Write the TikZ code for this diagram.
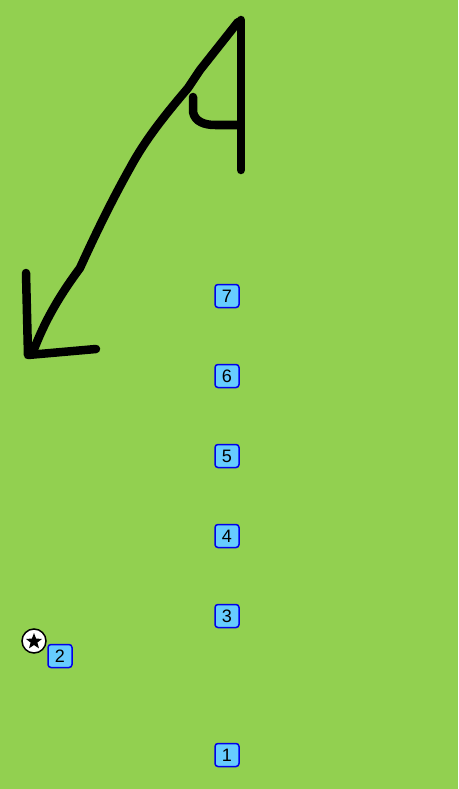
\documentclass[tikz,border=0pt]{standalone}
\usepackage{fontspec}
\setsansfont{Liberation Sans}
\usetikzlibrary{shapes.geometric}
\definecolor{bg}{RGB}{146,208,80}
\definecolor{boxfill}{RGB}{102,204,255}
\definecolor{boxdraw}{RGB}{0,0,235}
\tikzset{
  numbox/.style={draw=boxdraw, fill=boxfill, line width=1.5pt, rounded corners=3pt,
    minimum width=24pt, minimum height=23pt, inner sep=0pt, font=\sffamily\fontsize{18}{18}\selectfont, text=black},
  ink/.style={line width=8.5pt, line cap=round, line join=round, draw=black}
}
\begin{document}
\begin{tikzpicture}[x=1pt,y=-1pt]
\fill[bg] (0,0) rectangle (458,789);
\useasboundingbox (0,0) rectangle (458,789);
% hand drawn strokes
\draw[ink] (241,20) -- (241,170);
\draw[ink] (238,22) -- (200,70) -- (188,88)
  .. controls (165,115) and (145,140) .. (130,168)
  .. controls (112,200) and (95,235) .. (80,268)
  .. controls (60,295) and (45,320) .. (33,352);
\draw[ink] (193,97) -- (193,112) .. controls (195,122) and (205,125) .. (215,125) -- (240,125);
\draw[ink] (26,273) -- (28,355) -- (96,349);
% boxes
\node[numbox] (n7) at (227,296) {7};
\node[numbox] (n6) at (227,376) {6};
\node[numbox] (n5) at (227,456) {5};
\node[numbox] (n4) at (227,536) {4};
\node[numbox] (n3) at (227,616) {3};
\node[numbox] (n2) at (60,656) {2};
\node[numbox] (n1) at (227,755) {1};
% star marker
\node[circle, draw=black, fill=white, line width=1.5pt, minimum size=24pt, inner sep=0pt] (st) at (34,641) {};
\node[star, star points=5, star point ratio=2.4, fill=black, minimum size=17pt, inner sep=0pt] (stin) at (34,641.5) {};
\end{tikzpicture}
\end{document}
